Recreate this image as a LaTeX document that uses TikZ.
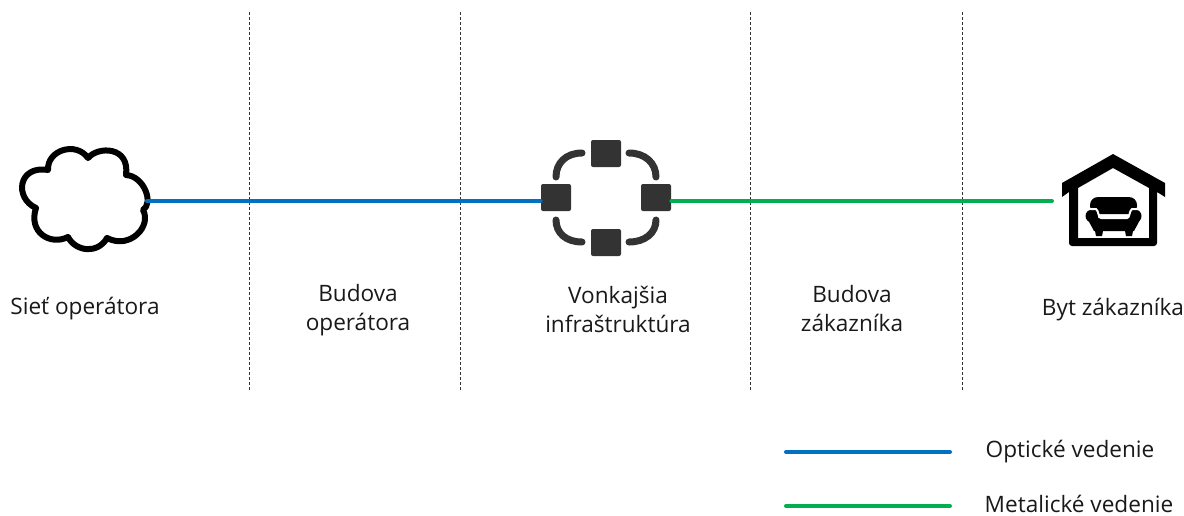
\documentclass[tikz,border=0pt]{standalone}
\usepackage{xcolor}
\usepackage{fontspec}
\usepackage{tikz}
\setmainfont{Open Sans}
\definecolor{optika}{HTML}{0070C0}
\definecolor{metal}{HTML}{00B050}
\definecolor{hubgray}{HTML}{333333}
\tikzset{
	label/.style={font=\fontsize{11.3}{14.5}\selectfont,align=center,text=black!90,inner sep=0pt},
	hubbox/.style={fill=hubgray,rounded corners=1pt,minimum width=15pt,minimum height=13.5pt,inner sep=0pt},
	hubarc/.style={draw=hubgray,line width=3.5pt,line cap=round},
	optline/.style={draw=optika,line width=2pt,line cap=round},
	metline/.style={draw=metal,line width=2pt,line cap=round}
}
\begin{document}
\begin{tikzpicture}[x=0.5pt,y=-0.5pt]
	\useasboundingbox (0,0) rectangle (1184,515);
	% dividers
	\foreach \x in {249.5,460.5,750.5,962.5}
		\draw[black!80,line width=0.4pt,dash pattern=on 1.5pt off 1pt] (\x,12) -- (\x,390);
	% cloud
	\draw[line width=3pt,line join=round] (48,170) .. controls (47,150) and (76,141) .. (88,158)
		.. controls (98,146) and (130,146) .. (126,175)
		.. controls (144,176) and (154,203) .. (143,210)
		.. controls (152,226) and (130,250) .. (107,238)
		.. controls (98,254) and (76,252) .. (68,237)
		.. controls (50,246) and (28,232) .. (36,208)
		.. controls (14,198) and (18,165) .. (48,170) -- cycle;
	\coordinate (cloud) at (147,201);
	% hub
	\node[hubbox] (hubtop) at (606,153.5) {};
	\node[hubbox] (hubleft) at (556,197.5) {};
	\node[hubbox] (hubright) at (656,197.5) {};
	\node[hubbox] (hubbottom) at (606,242.5) {};
	\draw[hubarc] (556,177) .. controls (556,163) and (566,153) .. (582,153);
	\draw[hubarc] (629,153) .. controls (645,153) and (656,163) .. (656,177);
	\draw[hubarc] (556,220) .. controls (556,233) and (566,242) .. (582,242);
	\draw[hubarc] (629,242) .. controls (645,242) and (656,233) .. (656,220);
	% house
	\fill[even odd rule] (1113,154) -- (1165,183) -- (1165,197) -- (1157,192) -- (1157,243)
		arc (0:90:3) -- (1072,246) arc (90:180:3) -- (1069,192) -- (1062,197) -- (1062,183) -- cycle
		(1113,168) -- (1149,188) -- (1149,238) -- (1078,238) -- (1078,188) -- cycle;
	\fill[rounded corners=4pt] (1090,197) rectangle (1137,214);
	\fill (1092,216) circle (6.5);
	\fill (1135,216) circle (6.5);
	\fill (1087,218) -- (1094,231) -- (1095,231) -- (1096,236) -- (1102,236) -- (1103,231) -- (1125,231) -- (1126,236) -- (1132,236) -- (1133,231) -- (1134,231) -- (1141,218) -- cycle;
	\draw[white,line width=1pt] (1087,209) -- (1096,209) .. controls (1099,211) and (1098,218) .. (1101,218) -- (1127,218) .. controls (1130,218) and (1129,211) .. (1132,209) -- (1141,209);
	\coordinate (home) at (1052,201);
	% connectors
	\draw[optline] (cloud) -- ([yshift=-1.75pt]hubleft.west);
	\draw[metline] ([yshift=-1.75pt]hubright.east) -- (home);
	% labels
	\node[label] (siet) at (85,309) {Sieť operátora};
	\node[label] (budovaop) at (358,310) {Budova\\operátora};
	\node[label] (vonk) at (618,309) {Vonkajšia\\infraštruktúra};
	\node[label] (budovazak) at (852,309) {Budova\\zákazníka};
	\node[label] (byt) at (1113,310) {Byt zákazníka};
	% legend
	\coordinate (opta) at (786,452);
	\coordinate (optb) at (950,452);
	\coordinate (meta) at (786,506);
	\coordinate (metb) at (950,506);
	\draw[optline] (opta) -- (optb);
	\draw[metline] (meta) -- (metb);
	\node[label] (optlabel) at (1070,452) {Optické vedenie};
	\node[label] (metlabel) at (1079,504) {Metalické vedenie};
\end{tikzpicture}
\end{document}
